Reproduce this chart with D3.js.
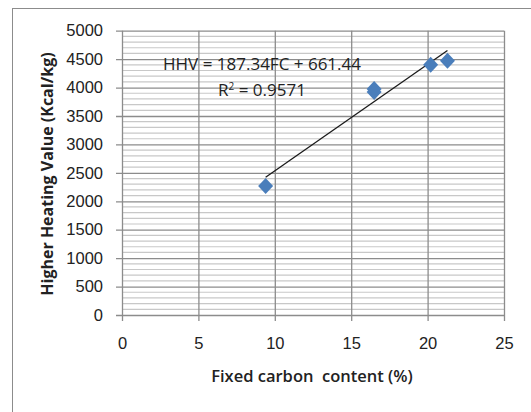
<!DOCTYPE html>
<html>
<head>
<meta charset="utf-8">
<script src="https://cdn.jsdelivr.net/npm/d3@7"></script>
<style>
  body { margin: 0; background: #fff; }
  svg { display: block; font-family: "Open Sans", "Liberation Sans", sans-serif; }
</style>
</head>
<body>
<svg id="canvas" width="531" height="412"></svg>
<script>
// fixed carbon (%) vs higher heating value (kcal/kg)
let fixedCarbon = [9.4, 16.5, 16.5, 20.2, 21.3]
let heatingValue = [2270, 3975, 3920, 4400, 4470]

let xTicks = [0, 5, 10, 15, 20, 25]
let yTicks = [0, 500, 1000, 1500, 2000, 2500, 3000, 3500, 4000, 4500, 5000]

let slope = 187.34
let intercept = 661.44

let canvas = d3.select('#canvas')

let margin = {left: 122, right: 27, top: 30.7, bottom: 97}
let width = 531
let height = 412

let xScale = d3.scaleLinear().domain([0, 25]).range([margin.left, width - margin.right])
let yScale = d3.scaleLinear().domain([0, 5000]).range([height - margin.bottom, margin.top])

// outer chart border
canvas.append('rect')
    .attr('x', 12.5).attr('y', 8.5)
    .attr('width', 540).attr('height', 420)
    .attr('fill', 'none')
    .attr('stroke', '#8c8c8c')

// minor gridlines every 100
canvas.append('g')
    .selectAll('line')
    .data(d3.range(100, 5000, 100).filter(v => v % 500 !== 0))
    .enter()
    .append('line')
    .attr('x1', xScale(0)).attr('x2', xScale(25))
    .attr('y1', d => yScale(d)).attr('y2', d => yScale(d))
    .attr('stroke', '#c8c8c8')
    .attr('stroke-width', 1.2)

// major horizontal gridlines + ticks
let yAxis = d3.axisLeft(yScale)
    .tickValues(yTicks)
    .tickFormat(d3.format('d'))
    .tickSize(-(xScale(25) - xScale(0)))
    .tickPadding(19)

let gy = canvas.append('g')
    .attr('transform', 'translate(' + xScale(0) + ',0)')
    .call(yAxis)
gy.select('.domain').remove()
gy.selectAll('.tick line')
    .attr('x1', -6)
    .attr('stroke', '#8c8c8c')
    .attr('stroke-width', 1.3)
gy.selectAll('.tick text')
    .attr('fill', '#222')
    .attr('font-size', 16.5)

// vertical gridlines + ticks
let xAxis = d3.axisBottom(xScale)
    .tickValues(xTicks)
    .tickSize(-(yScale(0) - yScale(5000)))
    .tickPadding(22)

let gx = canvas.append('g')
    .attr('transform', 'translate(0,' + yScale(0) + ')')
    .call(xAxis)
gx.select('.domain').remove()
gx.selectAll('.tick line')
    .attr('y1', 6)
    .attr('stroke', '#8c8c8c')
    .attr('stroke-width', 1.3)
gx.selectAll('.tick text')
    .attr('fill', '#222')
    .attr('font-size', 16.5)

// trendline
let xMin = d3.min(fixedCarbon)
let xMax = d3.max(fixedCarbon)
canvas.append('line')
    .attr('x1', xScale(xMin)).attr('y1', yScale(slope * xMin + intercept))
    .attr('x2', xScale(xMax)).attr('y2', yScale(slope * xMax + intercept))
    .attr('stroke', '#1a1a1a')
    .attr('stroke-width', 1.3)

// diamond markers
canvas.append('g')
    .selectAll('path')
    .data(fixedCarbon)
    .enter()
    .append('path')
    .attr('d', 'M0,-8L7.5,0L0,8L-7.5,0Z')
    .attr('transform', (d, i) => 'translate(' + xScale(d) + ',' + yScale(heatingValue[i]) + ')')
    .attr('fill', '#4a7ebb')

// equation label
canvas.append('text')
    .attr('x', 262).attr('y', 70)
    .attr('text-anchor', 'middle')
    .attr('font-size', 17)
    .attr('textLength', 198)
    .attr('fill', '#222')
    .text('HHV = 187.34FC + 661.44')

let r2 = canvas.append('text')
    .attr('x', 262).attr('y', 96)
    .attr('text-anchor', 'middle')
    .attr('font-size', 17)
    .attr('fill', '#222')
r2.append('tspan').text('R')
r2.append('tspan').attr('dy', -6).attr('font-size', 10).text('2')
r2.append('tspan').attr('dy', 6).text(' = 0.9571')

// axis titles
canvas.append('text')
    .attr('x', 312).attr('y', 382)
    .attr('text-anchor', 'middle')
    .attr('font-size', 16.5)
    .attr('font-weight', 600)
    .attr('fill', '#222')
    .attr('xml:space', 'preserve')
    .text('Fixed carbon  content (%)')

canvas.append('text')
    .attr('transform', 'translate(53,174) rotate(-90)')
    .attr('text-anchor', 'middle')
    .attr('font-size', 16)
    .attr('font-weight', 'bold')
    .attr('fill', '#222')
    .text('Higher Heating Value (Kcal/kg)')
</script>
</body>
</html>
